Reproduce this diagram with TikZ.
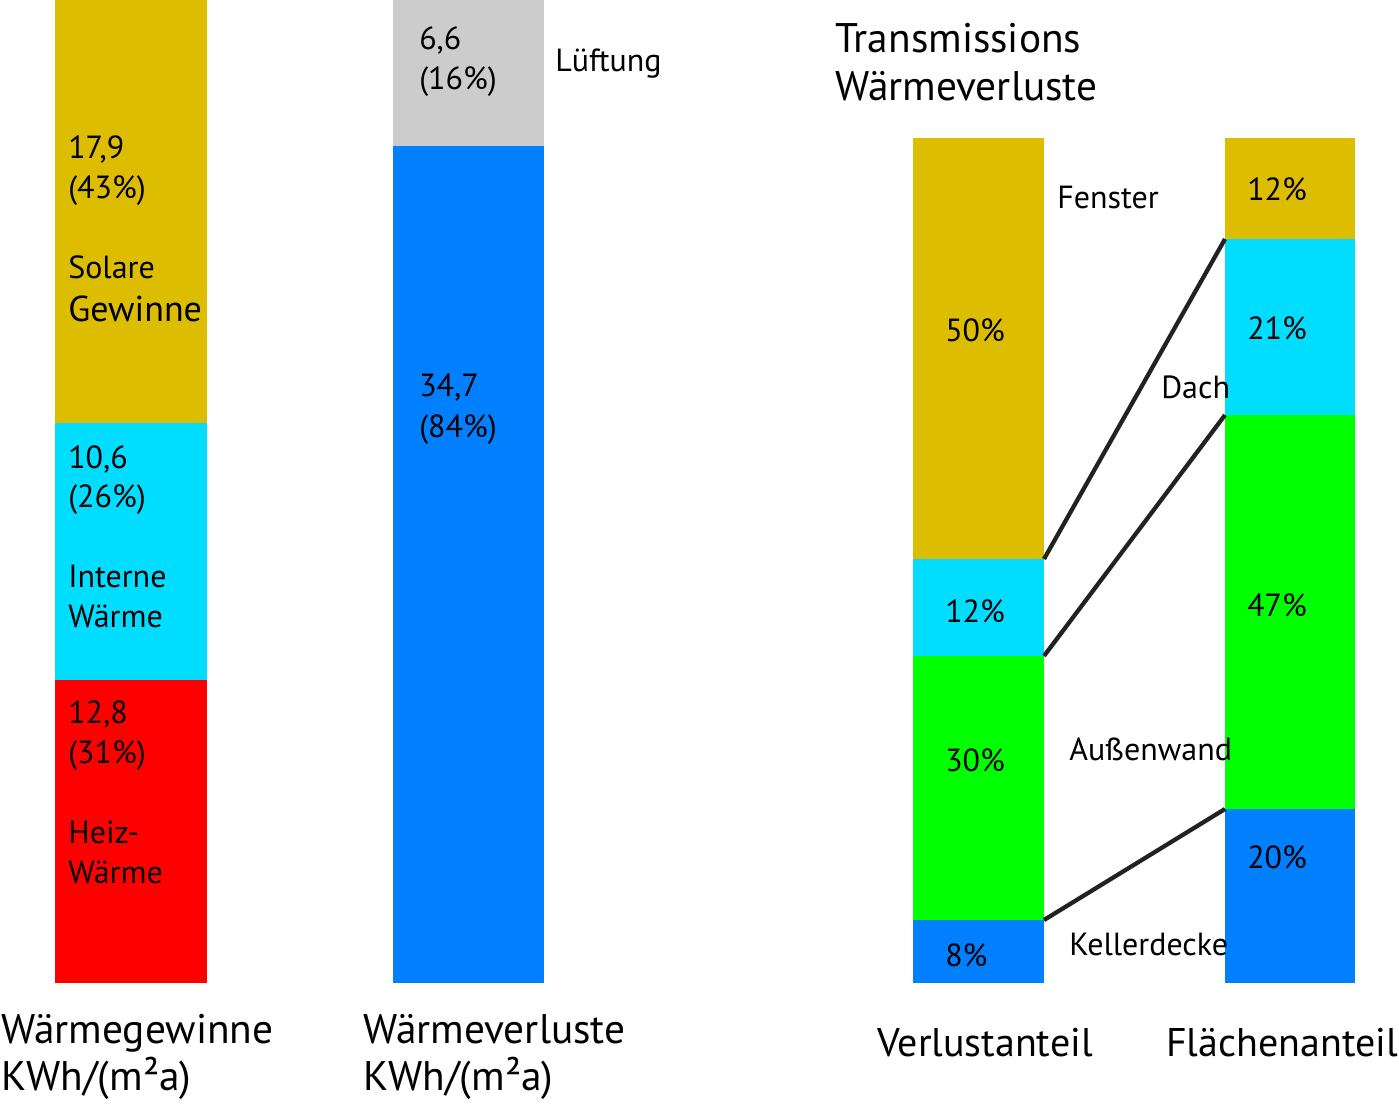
\documentclass[tikz,border=0pt]{standalone}
\usepackage{fontspec}
\setmainfont{PT Sans}
\definecolor{cYel}{HTML}{DDBD00}
\definecolor{cCyan}{HTML}{00DDFF}
\definecolor{cRed}{HTML}{FF0000}
\definecolor{cGray}{HTML}{CCCCCC}
\definecolor{cBlue}{HTML}{0080FF}
\definecolor{cGreen}{HTML}{00FF00}
\definecolor{cLine}{HTML}{222222}
\tikzset{
  seg/.style={draw=none, inner sep=0pt, outer sep=0pt, anchor=north west},
  lbl/.style={inner sep=0pt, anchor=base west, font=\fontsize{24}{28}\selectfont},
  biglbl/.style={inner sep=0pt, anchor=base west, font=\fontsize{31}{37}\selectfont},
  sublbl/.style={inner sep=0pt, anchor=base west, font=\fontsize{30}{36}\selectfont},
  link/.style={draw=cLine, line width=3.2pt}
}
\begin{document}
\begin{tikzpicture}[x=0.75pt,y=-0.75pt]
\useasboundingbox (0,0) rectangle (1399,1105);
% bar 1: Waermegewinne
\node[seg, fill=cYel,  minimum width=114pt, minimum height=317.25pt] (gS) at (55,0) {};
\node[seg, fill=cCyan, minimum width=114pt, minimum height=192.75pt] (gI) at (55,423) {};
\node[seg, fill=cRed,  minimum width=114pt, minimum height=227.25pt] (gH) at (55,680) {};
% bar 2: Waermeverluste
\node[seg, fill=cGray, minimum width=113.25pt, minimum height=109.5pt] (lL) at (393,0) {};
\node[seg, fill=cBlue, minimum width=113.25pt, minimum height=627.75pt] (lT) at (393,146) {};
% bar 3: Verlustanteil
\node[seg, fill=cYel,   minimum width=98.25pt, minimum height=315.75pt] (vF) at (913,138) {};
\node[seg, fill=cCyan,  minimum width=98.25pt, minimum height=72.75pt]  (vD) at (913,559) {};
\node[seg, fill=cGreen, minimum width=98.25pt, minimum height=198pt]    (vA) at (913,656) {};
\node[seg, fill=cBlue,  minimum width=98.25pt, minimum height=47.25pt]  (vK) at (913,920) {};
% bar 4: Flaechenanteil
\node[seg, fill=cYel,   minimum width=97.5pt, minimum height=75.75pt]  (fF) at (1225,138) {};
\node[seg, fill=cCyan,  minimum width=97.5pt, minimum height=132pt]    (fD) at (1225,239) {};
\node[seg, fill=cGreen, minimum width=97.5pt, minimum height=295.5pt]  (fA) at (1225,415) {};
\node[seg, fill=cBlue,  minimum width=97.5pt, minimum height=130.5pt]  (fK) at (1225,809) {};
% connectors
\draw[link] (vF.south east) -- (fF.south west);
\draw[link] (vD.south east) -- (fD.south west);
\draw[link] (vA.south east) -- (fA.south west);
% bar 1 texts
\node[lbl] (t1a) at (68,159) {17,9};
\node[lbl] (t1b) at (68,199) {(43\%)};
\node[lbl] (t1c) at (68,279) {Solare};
\node[lbl, font=\fontsize{27}{32}\selectfont] (t1d) at (68,322) {Gewinne};
\node[lbl] (t2a) at (68,468) {10,6};
\node[lbl] (t2b) at (68,507) {(26\%)};
\node[lbl] (t2c) at (68,587) {Interne};
\node[lbl] (t2d) at (68,627) {Wärme};
\node[lbl] (t3a) at (68,723) {12,8};
\node[lbl] (t3b) at (68,763) {(31\%)};
\node[lbl] (t3c) at (68,843) {Heiz-};
\node[lbl] (t3d) at (68,883) {Wärme};
% bar 2 texts
\node[lbl] (t4a) at (419,50) {6,6};
\node[lbl] (t4b) at (419,90) {(16\%)};
\node[lbl] (t4c) at (555,72) {Lüftung};
\node[lbl] (t5a) at (419,397) {34,7};
\node[lbl] (t5b) at (419,437) {(84\%)};
% title
\node[biglbl] (ti1) at (835,53) {Transmissions};
\node[biglbl] (ti2) at (835,101) {Wärmeverluste};
% bar 3 texts
\node[lbl] (v1) at (945,342) {50\%};
\node[lbl] (v2) at (945,622) {12\%};
\node[lbl] (v3) at (945,771) {30\%};
\node[lbl] (v4) at (945,966) {8\%};
% category labels
\node[lbl] (cF) at (1057,209) {Fenster};
\node[lbl] (cD) at (1161,398) {Dach};
\node[lbl] (cA) at (1069,760) {Außenwand};
\node[lbl] (cK) at (1069,955) {Kellerdecke};
% bar 4 texts
\node[lbl] (f1) at (1247,201) {12\%};
\node[lbl] (f2) at (1247,340) {21\%};
\node[lbl] (f3) at (1247,616) {47\%};
\node[lbl] (f4) at (1247,868) {20\%};
% bottom labels
\node[biglbl] (b1a) at (1,1043) {Wärmegewinne};
\node[biglbl] (b1b) at (1,1090) {KWh/(m²a)};
\node[biglbl] (b2a) at (363,1043) {Wärmeverluste};
\node[biglbl] (b2b) at (363,1090) {KWh/(m²a)};
\node[sublbl] (b3) at (877,1056) {Verlustanteil};
\node[sublbl] (b4) at (1166,1056) {Flächenanteil};
\end{tikzpicture}
\end{document}
